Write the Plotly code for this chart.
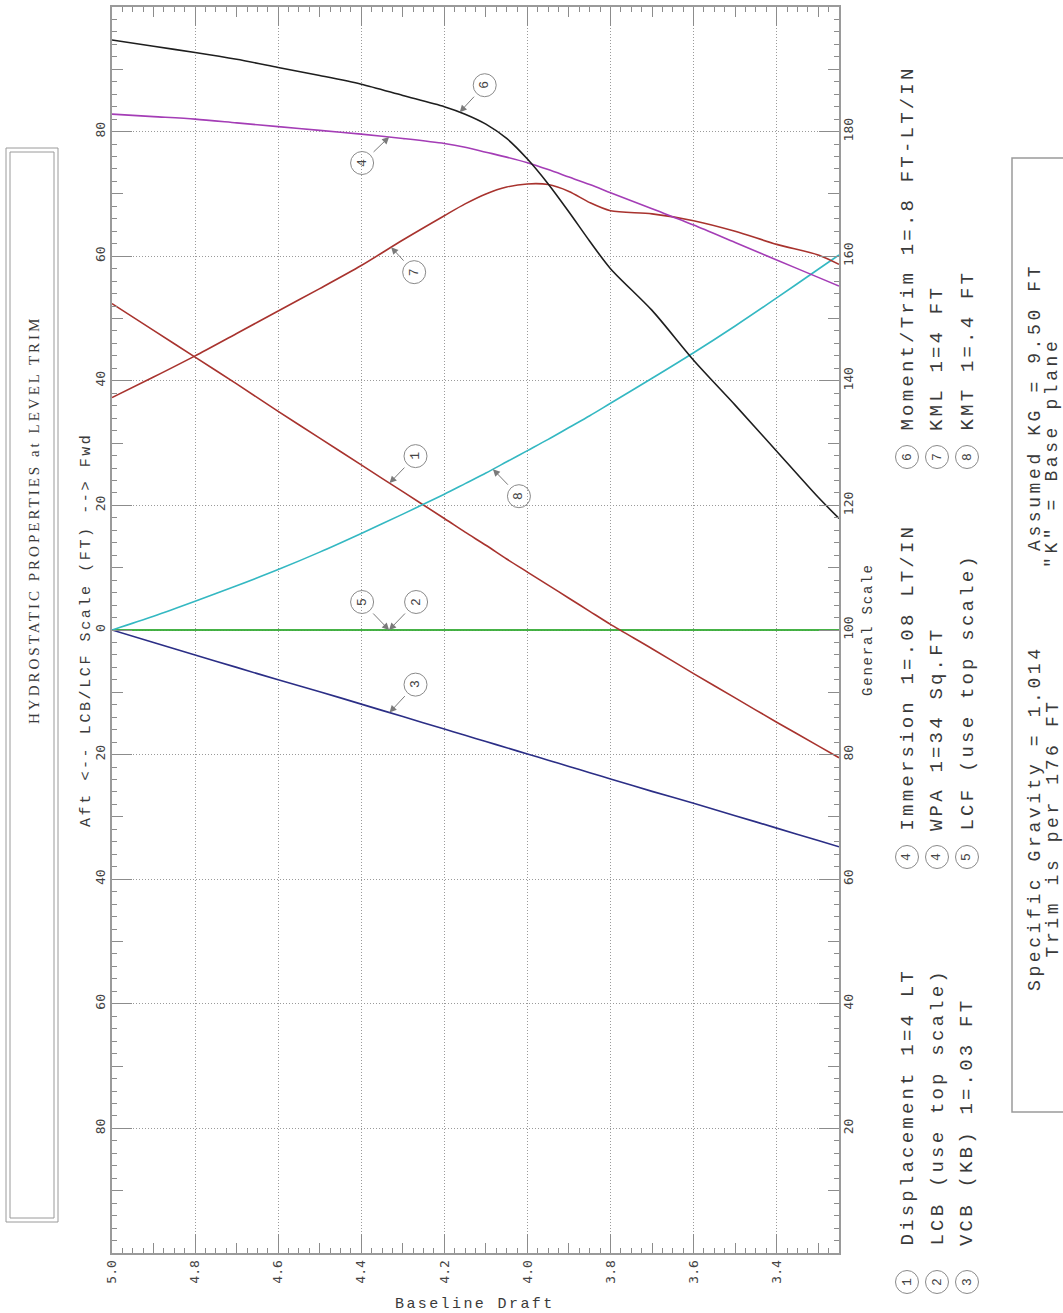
import numpy as np
import plotly.graph_objects as go

# ---------------------------------------------------------------------------
# Hydrostatic curves, tabulated against baseline draft (ft)
# ---------------------------------------------------------------------------
draft = [5.0, 4.9, 4.8, 4.7, 4.6, 4.5, 4.4, 4.3, 4.2, 4.15, 4.1, 4.05, 4.0,
         3.95, 3.9, 3.85, 3.8, 3.7, 3.6, 3.5, 3.4, 3.3, 3.25]

# Values on the general scale (see legend for the unit of each curve)
displacement = [152.4, 148.1, 143.8, 139.5, 135.1, 130.8, 126.5, 122.2, 117.9, 115.7, 113.6, 111.4,
                109.3, 107.2, 105.1, 103.0, 100.9, 97.0, 93.0, 89.1, 85.2, 81.4, 79.5]
vcb = [100.0, 98.0, 96.0, 94.0, 92.0, 90.1, 88.1, 86.1, 84.1, 83.1, 82.1, 81.1,
       80.1, 79.1, 78.1, 77.1, 76.1, 74.1, 72.2, 70.2, 68.2, 66.2, 65.2]
immersion = [182.8, 182.4, 182.0, 181.4, 180.8, 180.2, 179.6, 178.9, 178.1, 177.5, 176.7, 175.9,
             175.0, 173.9, 172.7, 171.5, 170.2, 167.6, 165.0, 162.2, 159.4, 156.6, 155.2]
moment_trim = [194.7, 193.7, 192.7, 191.6, 190.3, 189.0, 187.6, 185.8, 184.0, 182.8, 181.2, 178.9,
               175.6, 171.6, 167.1, 162.4, 158.0, 151.3, 143.3, 136.1, 128.7, 121.3, 117.9]
kml = [137.3, 140.6, 144.0, 147.6, 151.2, 154.8, 158.5, 162.6, 166.5, 168.4, 170.0, 171.1,
       171.6, 171.5, 170.4, 168.6, 167.3, 166.8, 165.7, 164.0, 161.9, 160.2, 158.7]
kmt = [100.0, 102.2, 104.6, 107.1, 109.7, 112.5, 115.5, 118.6, 121.8, 123.5, 125.2, 127.0,
       128.8, 130.6, 132.5, 134.4, 136.4, 140.4, 144.5, 148.8, 153.3, 157.9, 160.2]

# LCB / LCF in feet on the top (Aft/Fwd) scale
lcb = [0.0, 0.0, 0.0, 0.0, 0.0, 0.0, 0.0, 0.0, 0.0, 0.0, 0.0, 0.0,
       0.0, 0.0, 0.0, 0.0, 0.0, 0.0, 0.0, 0.0, 0.0, 0.0, 0.0]
lcf = [0.0, 0.0, 0.0, 0.0, 0.0, 0.0, 0.0, 0.0, 0.0, 0.0, 0.0, 0.0,
       0.0, 0.0, 0.0, 0.0, 0.0, 0.0, 0.0, 0.0, 0.0, 0.0, 0.0]

# Tick values
draft_ticks = [5.0, 4.8, 4.6, 4.4, 4.2, 4.0, 3.8, 3.6, 3.4]
draft_labels = ["5.0", "4.8", "4.6", "4.4", "4.2", "4.0", "3.8", "3.6", "3.4"]
top_scale_ticks = [-80, -60, -40, -20, 0, 20, 40, 60, 80]
top_scale_labels = ["80", "60", "40", "20", "0", "20", "40", "60", "80"]
general_ticks = [20, 40, 60, 80, 100, 120, 140, 160, 180]
general_labels = ["20", "40", "60", "80", "100", "120", "140", "160", "180"]

# Legend entries: (number, description)
legend_col1 = [("1", "Displacement 1=4 LT"), ("2", "LCB (use top scale)"), ("3", "VCB (KB) 1=.03 FT")]
legend_col2 = [("4", "Immersion 1=.08 LT/IN"), ("4", "WPA 1=34 Sq.FT"), ("5", "LCF (use top scale)")]
legend_col3 = [("6", "Moment/Trim 1=.8 FT-LT/IN"), ("7", "KML 1=4 FT"), ("8", "KMT 1=.4 FT")]

# ---------------------------------------------------------------------------
# Page geometry
# ---------------------------------------------------------------------------
W, H = 1063, 1313
PL, PR, PT, PB = 112, 839, 7, 1253


def px(x):
    return (x - PL) / (PR - PL)


def py(y):
    return (PB - y) / (PB - PT)


def spaced(text, ls):
    return f'<span style="letter-spacing:{ls}px">{text}</span>'


MONO = "Liberation Mono"
TICK_FONT_FAMILY = "DejaVu Sans Mono"
GRAY = "#9a9a9a"
TICK = "#8c8c8c"
TXT = "#3a3a3a"

RED = "#a8332e"
GREEN = "#3aad3a"
NAVY = "#2b2e86"
PURPLE = "#a43db6"
BLACK = "#1e1e1e"
CYAN = "#34b8c2"

fig = go.Figure()


def add_curve(values, color, name, axis="y2"):
    fig.add_trace(go.Scatter(
        x=draft, y=values, mode="lines", name=name,
        line=dict(color=color, width=1.6, shape="spline", smoothing=0.8),
        xaxis="x", yaxis=axis, showlegend=False, hoverinfo="skip"))


add_curve(displacement, RED, "Displacement")
add_curve(vcb, NAVY, "VCB")
add_curve(kmt, CYAN, "KMT")
add_curve(kml, RED, "KML")
add_curve(immersion, PURPLE, "Immersion / WPA")
add_curve(moment_trim, BLACK, "Moment/Trim")
add_curve(lcb, GREEN, "LCB", axis="y")
add_curve(lcf, GREEN, "LCF", axis="y")

# empty traces so the tick-only overlay axes are drawn
fig.add_trace(go.Scatter(x=[None], y=[None], xaxis="x2", yaxis="y", showlegend=False, hoverinfo="skip"))
fig.add_trace(go.Scatter(x=[None], y=[None], xaxis="x", yaxis="y3", showlegend=False, hoverinfo="skip"))

shapes = []
annotations = []

# ---------------------------------------------------------------------------
# Numbered callouts on the curves
# ---------------------------------------------------------------------------
callouts = [
    ("6", moment_trim, "y2", 4.163, 25, -27),
    ("4", immersion, "y2", 4.333, -27, 26),
    ("7", kml, "y2", 4.328, 23, 25),
    ("1", displacement, "y2", 4.332, 26, -27),
    ("8", kmt, "y2", 4.083, 26, 27),
    ("5", lcf, "y", 4.333, -27, -28),
    ("2", lcb, "y", 4.333, 27, -28),
    ("3", vcb, "y2", 4.332, 26, -28),
]
R = 11.5
for num, curve, yax, d, ax, ay in callouts:
    yv = float(np.interp(d, draft[::-1], curve[::-1]))
    annotations.append(dict(
        x=d, y=yv, xref="x", yref=yax, text=num, textangle=-90,
        showarrow=True, ax=ax, ay=ay, width=20, height=20,
        arrowhead=2, arrowsize=1.4, arrowwidth=1, arrowcolor="#7a7a7a",
        font=dict(family=MONO, size=13, color="#444")))
    shapes.append(dict(
        type="circle", xref="x", yref=yax, xsizemode="pixel", ysizemode="pixel",
        xanchor=d, yanchor=yv, x0=ax - R, x1=ax + R, y0=-ay - R, y1=-ay + R,
        line=dict(color="#8a8a8a", width=1)))

# ---------------------------------------------------------------------------
# Legend (rotated text, reading upward)
# ---------------------------------------------------------------------------
col_x = [907, 937, 967]
groups = [(legend_col1, 1282, 1248), (legend_col2, 857, 833), (legend_col3, 457, 433)]
for entries, circ_y, text_y in groups:
    for (num, desc), cx in zip(entries, col_x):
        shapes.append(dict(
            type="circle", xref="paper", yref="paper", xsizemode="pixel", ysizemode="pixel",
            xanchor=px(cx), yanchor=py(circ_y), x0=-R, x1=R, y0=-R, y1=R,
            line=dict(color="#8a8a8a", width=1)))
        annotations.append(dict(
            x=px(cx), y=py(circ_y), xref="paper", yref="paper", text=num, textangle=-90,
            showarrow=False, xanchor="center", yanchor="middle",
            font=dict(family=MONO, size=13, color="#444")))
        annotations.append(dict(
            x=px(cx), y=py(text_y), xref="paper", yref="paper", text=spaced(desc, 3.2),
            textangle=-90, showarrow=False, xanchor="center", yanchor="bottom",
            font=dict(family=MONO, size=19, color=TXT)))

# Specific gravity / KG notes box
shapes.append(dict(type="rect", xref="paper", yref="paper",
                   x0=px(1012), x1=px(1075), y0=py(1112), y1=py(158),
                   line=dict(color=GRAY, width=1.5)))
notes = [
    ("Specific Gravity = 1.014", 1035, 993),
    ("Trim is per 176 FT", 1052, 960),
    ("Assumed KG = 9.50 FT", 1035, 553),
    ("\"K\" = Base plane", 1052, 570),
]
for text, x, y in notes:
    annotations.append(dict(
        x=px(x), y=py(y), xref="paper", yref="paper", text=spaced(text, 3.6),
        textangle=-90, showarrow=False, xanchor="center", yanchor="bottom",
        font=dict(family=MONO, size=18, color=TXT)))

# Title box (double frame) and title
shapes.append(dict(type="rect", xref="paper", yref="paper",
                   x0=px(6), x1=px(58), y0=py(1222), y1=py(148),
                   line=dict(color=GRAY, width=1)))
shapes.append(dict(type="rect", xref="paper", yref="paper",
                   x0=px(10), x1=px(54), y0=py(1218), y1=py(152),
                   line=dict(color=GRAY, width=1)))
annotations.append(dict(
    x=px(34), y=py(520), xref="paper", yref="paper",
    text=spaced("HYDROSTATIC PROPERTIES at LEVEL TRIM", 3.0), textangle=-90,
    showarrow=False, xanchor="center", yanchor="middle",
    font=dict(family="Liberation Serif", size=15, color=TXT)))

# Axis titles
annotations.append(dict(
    x=px(86), y=py(630), xref="paper", yref="paper",
    text=spaced("Aft &lt;-- LCB/LCF Scale (FT) --&gt; Fwd", 2.6), textangle=-90,
    showarrow=False, xanchor="center", yanchor="middle",
    font=dict(family=MONO, size=15, color=TXT)))
annotations.append(dict(
    x=px(868), y=py(630), xref="paper", yref="paper",
    text=spaced("General Scale", 1.8), textangle=-90,
    showarrow=False, xanchor="center", yanchor="middle",
    font=dict(family=MONO, size=14, color=TXT)))
annotations.append(dict(
    x=px(475), y=py(1304), xref="paper", yref="paper",
    text=spaced("Baseline Draft", 2.4), showarrow=False,
    xanchor="center", yanchor="middle",
    font=dict(family=MONO, size=15, color=TXT)))

tick_font = dict(family=TICK_FONT_FAMILY, size=13, color="#444")
GRID_DASH = "1px,2px"

fig.update_layout(
    width=W, height=H,
    margin=dict(l=PL, r=W - PR, t=PT, b=H - PB, pad=0),
    paper_bgcolor="white", plot_bgcolor="white", showlegend=False,
    font=dict(family=MONO, color=TXT),
    xaxis=dict(
        range=[5.0, 3.25], tickmode="array", tickvals=draft_ticks, ticktext=draft_labels,
        tickangle=-90, ticks="inside", ticklen=19, tickwidth=1, tickcolor=TICK,
        showline=True, linecolor=GRAY, linewidth=2, mirror="ticks",
        showgrid=True, gridcolor=GRAY, gridwidth=1, griddash=GRID_DASH, zeroline=False,
        tickfont=tick_font, automargin=False),
    xaxis2=dict(
        overlaying="x", anchor="y", range=[5.0, 3.25], tickmode="linear", tick0=5.0, dtick=0.1,
        ticks="inside", ticklen=10, tickwidth=1, tickcolor=TICK, mirror="ticks",
        showticklabels=False, showgrid=False, showline=False, zeroline=False, automargin=False,
        minor=dict(tick0=5.0, dtick=0.025, ticks="inside", ticklen=5, tickwidth=1,
                   tickcolor=TICK, showgrid=False)),
    yaxis=dict(
        range=[-100, 100], tickmode="array", tickvals=top_scale_ticks, ticktext=top_scale_labels,
        tickangle=-90, ticks="inside", ticklen=20, tickwidth=1, tickcolor=TICK,
        showline=True, linecolor=GRAY, linewidth=2, mirror="ticks",
        showgrid=True, gridcolor=GRAY, gridwidth=1, griddash=GRID_DASH, zeroline=False,
        tickfont=tick_font, automargin=False),
    yaxis3=dict(
        overlaying="y", anchor="x", range=[-100, 100], tickmode="linear", tick0=0, dtick=10,
        ticks="inside", ticklen=11, tickwidth=1, tickcolor=TICK, mirror="ticks",
        showticklabels=False, showgrid=False, showline=False, zeroline=False, automargin=False,
        minor=dict(tick0=0, dtick=2, ticks="inside", ticklen=5, tickwidth=1,
                   tickcolor=TICK, showgrid=False)),
    yaxis2=dict(
        overlaying="y", side="right", anchor="x", range=[0, 200],
        tickmode="array", tickvals=general_ticks, ticktext=general_labels,
        tickangle=-90, ticks="", showline=False, showgrid=False, zeroline=False,
        tickfont=tick_font, automargin=False),
    shapes=shapes,
    annotations=annotations,
)

fig.write_html("out.html")
